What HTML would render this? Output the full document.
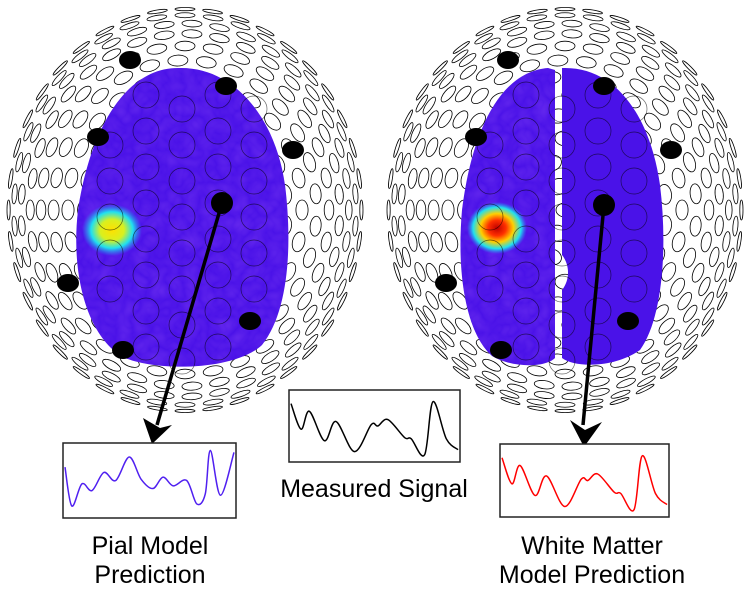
<!DOCTYPE html>
<html><head><meta charset="utf-8"><style>
body{margin:0;background:#fff;width:751px;height:596px;overflow:hidden}
svg{display:block}
text{font-family:"Liberation Sans",sans-serif;font-size:25px;fill:#000}
</style></head><body>
<svg id="s" width="751" height="596" viewBox="0 0 751 596">
<defs><filter id="n"><feTurbulence baseFrequency="0.06" numOctaves="2" seed="3"/><feColorMatrix values="0 0 0 0 0.35 0 0 0 0 0.1 0 0 0 0 0.95 0 0 0 0.35 0"/><feComposite in2="SourceGraphic" operator="in"/></filter>
<radialGradient id="hot1"><stop offset="0" stop-color="#ffe000"/><stop offset="0.4" stop-color="#d8f020"/><stop offset="0.7" stop-color="#20e0f0"/><stop offset="1" stop-color="#20a0f0" stop-opacity="0"/></radialGradient>
<radialGradient id="hot2"><stop offset="0" stop-color="#c00000"/><stop offset="0.3" stop-color="#ff3000"/><stop offset="0.55" stop-color="#ffd000"/><stop offset="0.8" stop-color="#20e0f0"/><stop offset="1" stop-color="#20a0f0" stop-opacity="0"/></radialGradient>
</defs>
<g id="g"></g>
</svg>
<script>
var NS="http://www.w3.org/2000/svg",g=document.getElementById('g');
function el(t,a,p){var e=document.createElementNS(NS,t);for(var k in a)e.setAttribute(k,a[k]);(p||g).appendChild(e);return e;}
function head(cx,cy,rx,ry){
 var sg=el('g',{fill:'none',stroke:'#000','stroke-width':0.8});
 var rings=[0,0.12,0.24,0.35,0.46,0.56,0.65,0.73,0.8,0.86,0.91,0.95,0.98];
 rings.forEach(function(r,i){
  if(r==0){el('ellipse',{cx:cx,cy:cy,rx:9,ry:7},sg);return;}
  var circ=2*Math.PI*r*(rx+ry)/2;
  var n=Math.round(circ/30);
  for(var j=0;j<n;j++){
   var a=2*Math.PI*j/n+(i%2)*Math.PI/n;
   var x=cx+rx*r*Math.cos(a),y=cy+ry*r*Math.sin(a);
   var c=Math.sqrt(Math.max(0.04,1-r*r));
   var ang=a*180/Math.PI;
   el('ellipse',{cx:x,cy:y,rx:Math.max(8*c,1.2),ry:10,transform:'rotate('+ang+' '+x+' '+y+')'},sg);
  }
 });
}
head(185,210,180,205);
head(565,210,180,205);
function brain(d,hot,hx,hy){
 el('path',{d:d,fill:'#4a12e8'});
 el('path',{d:d,fill:'#fff',filter:'url(#n)'});
 el('ellipse',{cx:hx,cy:hy,rx:30,ry:26,fill:'url('+hot+')'});
}
brain("M178,68 C125,68 90,130 78,210 C70,280 90,340 125,358 C160,372 235,370 262,345 C290,310 292,240 285,185 C275,115 232,66 178,68 Z",'#hot1',112,230);
brain("M548,68 C500,72 472,130 462,210 C456,280 468,335 492,356 C512,368 545,368 555,358 L555,70 Z",'#hot2',497,228);
el('path',{d:"M562,68 C615,66 650,115 660,185 C668,250 662,320 640,350 C615,368 575,368 562,358 L562,290 C570,280 570,265 562,255 Z",fill:'#4a12e8'});
var ig=el('g',{fill:'none',stroke:'#000','stroke-width':0.7,opacity:0.6});
[0,380].forEach(function(o){for(var y=95;y<360;y+=36)for(var x=110;x<290;x+=36){var yy=y+((x/36|0)%2)*14;if(Math.pow((x-185)/100,2)+Math.pow((yy-215)/150,2)<1)el('circle',{cx:x+o,cy:yy,r:13},ig);}});
[[130,60],[226,86],[98,137],[293,150],[68,283],[250,321],[123,350]].forEach(function(p){
 el('ellipse',{cx:p[0],cy:p[1],rx:11,ry:9,fill:'#000'});
 el('ellipse',{cx:p[0]+378,cy:p[1],rx:11,ry:9,fill:'#000'});
});
el('circle',{cx:222,cy:203,r:11,fill:'#000'});
el('circle',{cx:604,cy:205,r:11,fill:'#000'});
el('line',{x1:222,y1:203,x2:157,y2:425,stroke:'#000','stroke-width':3.5});
el('path',{d:"M143,418 L152,444 L172,425 L160,428 Z",fill:'#000'});
el('line',{x1:604,y1:205,x2:583,y2:425,stroke:'#000','stroke-width':3.5});
el('path',{d:"M570,420 L584,447 L602,422 L585,430 Z",fill:'#000'});
var P=[[0,.15],[.06,.55],[.11,.27],[.2,.73],[.27,.43],[.38,.9],[.48,.48],[.52,.5],[.58,.4],[.68,.68],[.72,.7],[.8,.95],[.85,.12],[.93,.7],[1,.87]];
var PB=[[0,.3],[.04,.88],[.1,.55],[.16,.65],[.23,.38],[.3,.5],[.38,.15],[.45,.48],[.52,.62],[.58,.45],[.64,.58],[.72,.5],[.78,.85],[.83,.7],[.86,.05],[.92,.72],[1,.08]];
function box(x,y,w,h,col,Q){
 el('rect',{x:x,y:y,width:w,height:h,fill:'#fff',stroke:'#222','stroke-width':1.5});
 var pts=Q.map(function(p){return [x+2+p[0]*(w-4),y+4+p[1]*(h-8)]});
 var d="M"+pts[0];
 for(var i=0;i<pts.length-1;i++){var p0=pts[Math.max(i-1,0)],p1=pts[i],p2=pts[i+1],p3=pts[Math.min(i+2,pts.length-1)];
  d+=" C"+(p1[0]+(p2[0]-p0[0])/6)+","+(p1[1]+(p2[1]-p0[1])/6)+" "+(p2[0]-(p3[0]-p1[0])/6)+","+(p2[1]-(p3[1]-p1[1])/6)+" "+p2;}
 el('path',{d:d,fill:'none',stroke:col,'stroke-width':1.5});
}
box(63,443,173,75,'#5020f0',PB);
box(289,390,171,72,'#000',P);
box(500,444,169,73,'#f00',P);
function t(x,y,s){var e=el('text',{x:x,y:y,'text-anchor':'middle'});e.textContent=s;}
t(374,497,'Measured Signal');
t(150,554,'Pial Model');t(150,583,'Prediction');
t(592,554,'White Matter');t(592,583,'Model Prediction');
</script>
</body></html>
